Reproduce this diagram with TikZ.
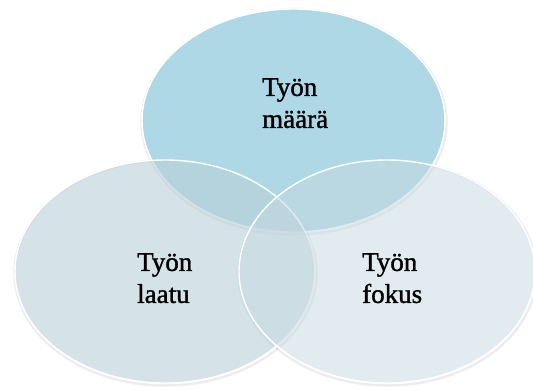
\documentclass[tikz,border=0pt]{standalone}
\usepackage{fontspec}
\setmainfont{Liberation Serif}
\newfontfamily\lblfont[FakeBold=1.3]{Liberation Serif}
\usetikzlibrary{shapes.geometric}
\definecolor{topblue}{RGB}{174,216,229}
\definecolor{leftblue}{RGB}{185,208,217}
\definecolor{rightblue}{RGB}{197,216,224}
\tikzset{
  blob/.style={ellipse, inner sep=0pt, draw=white, line width=1.4pt},
  rim/.style={ellipse, inner sep=0pt, draw=black, draw opacity=0.07, line width=2.5pt, fill=none},
  label/.style={align=left, inner sep=0pt, font=\lblfont\fontsize{27}{32}\selectfont, text=black}
}
\begin{document}
\begin{tikzpicture}[x=1pt, y=-1pt]
  \useasboundingbox (0,0) rectangle (533,389);
  % faint shadow rims around the circles
  \foreach \cx/\cy/\w in {293.5/120.5/303, 165/271.5/300, 387/271.5/296}{
    \node[rim, minimum width=\w pt+2pt, minimum height=225pt] at (\cx+0.5,\cy+1.5) {};
  }
  % circles
  \node[blob, fill=topblue, minimum width=303pt, minimum height=223pt] (qty) at (293.5,120.5) {};
  \node[blob, fill=leftblue, fill opacity=0.6, minimum width=300pt, minimum height=223pt] (qual) at (165,271.5) {};
  \node[blob, fill=rightblue, fill opacity=0.5, minimum width=296pt, minimum height=223pt] (focus) at (387,271.5) {};
  % labels
  \node[label, anchor=north west] (tqty) at (262,78) {Työn\\määrä};
  \node[label, anchor=north west] (tqual) at (137,253) {Työn\\laatu};
  \node[label, anchor=north west] (tfocus) at (362,253) {Työn\\fokus};
\end{tikzpicture}
\end{document}
